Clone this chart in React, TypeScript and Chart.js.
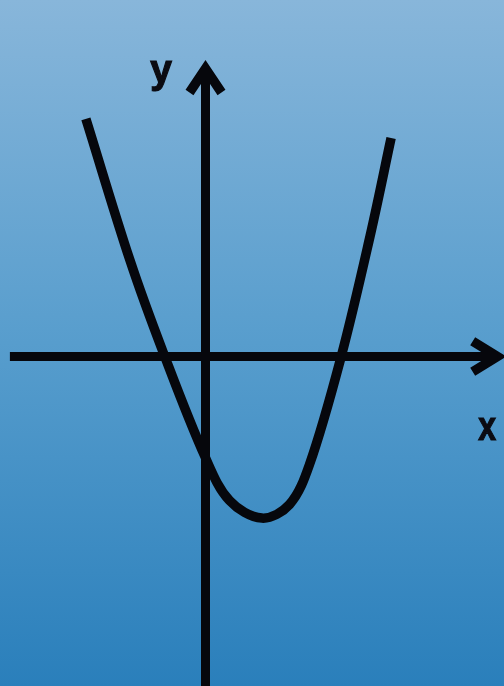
import React, { useEffect, useRef } from "react";
import { Chart, registerables } from "chart.js";

Chart.register(...registerables);

// Parabola (1 unit = 40px, origin at the axes' crossing)
const curveX = [-2.99, -1.89, -1.06, -0.01, 0.6, 1.41, 2.1, 2.6, 3.39, 4.11, 4.64];
const curveY = [5.94, 2.41, 0.11, -2.51, -3.6, -4.04, -3.7, -2.7, -0.01, 2.99, 5.46];

// Axes
const xAxisX = [-4.89, 7.3];
const xAxisY = [0, 0];
const xArrowX = [6.68, 7.3, 6.68];
const xArrowY = [0.38, 0, -0.38];
const yAxisX = [0, 0];
const yAxisY = [7.2, -8.4];
const yArrowX = [-0.4, 0, 0.4];
const yArrowY = [6.6, 7.2, 6.6];

// Axis labels
const labelText = ["y", "x"];
const labelX = [-1.11, 7.04];
const labelY = [7.12, -1.8];

const toPts = (xs: number[], ys: number[]) => xs.map((x, i) => ({ x, y: ys[i] }));

const INK = "#06070c";

export default function App() {
  const ref = useRef<HTMLCanvasElement | null>(null);

  useEffect(() => {
    const canvas = ref.current;
    if (!canvas) return;

    const bgPlugin = {
      id: "bg",
      beforeDraw(chart: any) {
        const { ctx, width, height } = chart;
        const g = ctx.createLinearGradient(0, 0, 0, height);
        g.addColorStop(0, "#88b6da");
        g.addColorStop(0.5, "#579dcd");
        g.addColorStop(1, "#2a7fbb");
        ctx.save();
        ctx.fillStyle = g;
        ctx.fillRect(0, 0, width, height);
        ctx.restore();
      },
    };

    const labelPlugin = {
      id: "axisLabels",
      afterDatasetsDraw(chart: any) {
        const { ctx } = chart;
        const xs = chart.scales.x;
        const ys = chart.scales.y;
        const scaleX = [0.95, 0.78];
        ctx.save();
        ctx.fillStyle = "#0b0b12";
        ctx.strokeStyle = "#0b0b12";
        ctx.lineWidth = 1.2;
        ctx.font = "bold 41px 'Liberation Sans', Arial, sans-serif";
        ctx.textAlign = "center";
        ctx.textBaseline = "middle";
        labelText.forEach((t, i) => {
          const px = xs.getPixelForValue(labelX[i]);
          const py = ys.getPixelForValue(labelY[i]);
          ctx.save();
          ctx.translate(px, py);
          ctx.scale(scaleX[i], 1);
          ctx.fillText(t, 0, 0);
          ctx.strokeText(t, 0, 0);
          ctx.restore();
        });
        ctx.restore();
      },
    };

    const lineDs = (data: any[], width: number, join: string, cap: string, tension: number) => ({
      data,
      showLine: true,
      borderColor: INK,
      backgroundColor: INK,
      borderWidth: width,
      borderJoinStyle: join,
      borderCapStyle: cap,
      pointRadius: 0,
      pointHoverRadius: 0,
      tension,
      clip: false,
    });

    const chart = new Chart(canvas, {
      type: "scatter",
      data: {
        datasets: [
          lineDs(toPts(xAxisX, xAxisY), 9, "miter", "butt", 0),
          lineDs(toPts(yAxisX, yAxisY), 9, "miter", "butt", 0),
          lineDs(toPts(xArrowX, xArrowY), 9.5, "miter", "butt", 0),
          lineDs(toPts(yArrowX, yArrowY), 9.5, "miter", "butt", 0),
          lineDs(toPts(curveX, curveY), 9.5, "round", "butt", 0.35),
        ] as any,
      },
      options: {
        animation: false,
        responsive: false,
        events: [],
        layout: { padding: 0 },
        plugins: {
          legend: { display: false },
          tooltip: { enabled: false },
        },
        scales: {
          x: { type: "linear", display: false, min: -205.5 / 40, max: (504 - 205.5) / 40 },
          y: { type: "linear", display: false, min: -(686 - 356.5) / 40, max: 356.5 / 40 },
        },
      } as any,
      plugins: [bgPlugin, labelPlugin],
    });

    return () => chart.destroy();
  }, []);

  return (
    <div style={{ position: "fixed", left: 0, top: 0, width: 504, height: 686 }}>
      <canvas ref={ref} width={504} height={686} style={{ display: "block" }} />
    </div>
  );
}
